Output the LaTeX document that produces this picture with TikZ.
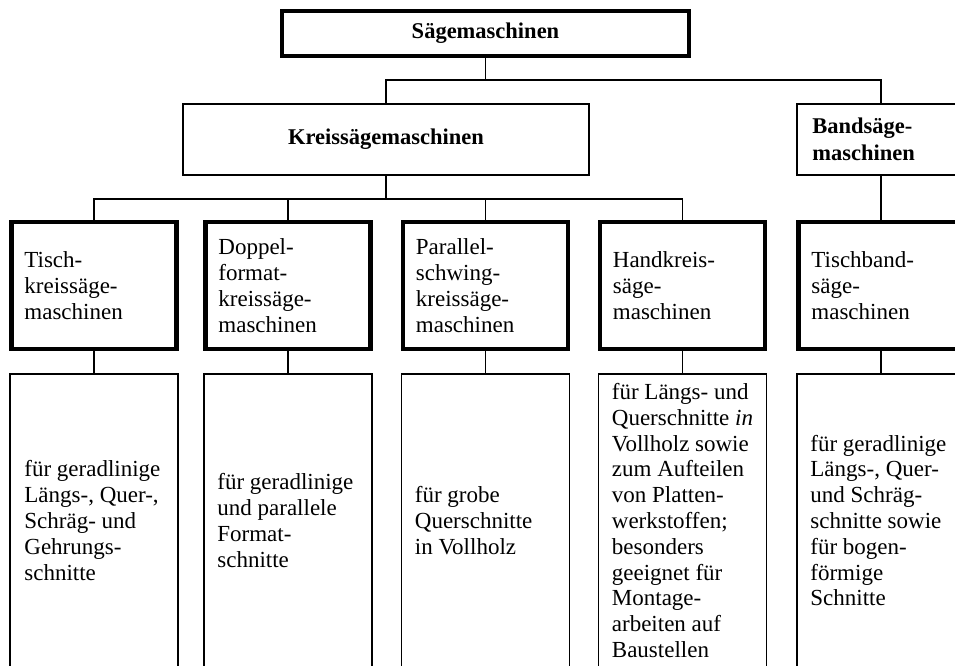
\documentclass[tikz,border=0pt]{standalone}
\usepackage{fontspec}
\setmainfont{Liberation Serif}
\begin{document}
\begin{tikzpicture}[x=1pt,y=-1pt,
  thickbox/.style={draw, line width=4.6pt, inner sep=0pt},
  thinbox/.style={draw, line width=1.6pt, inner sep=0pt},
  link/.style={line width=1.4pt},
  head/.style={font=\bfseries\fontsize{22.5}{27}\selectfont},
  body/.style={anchor=west, align=left, inner sep=0pt, font=\fontsize{23}{25.8}\selectfont},
  headbody/.style={anchor=west, align=left, inner sep=0pt, font=\bfseries\fontsize{22.5}{27}\selectfont},
  rowtwo/.style={thickbox, minimum width=165pt, minimum height=127pt},
  rowthree/.style={thinbox, minimum width=168pt, minimum height=293pt}]
\useasboundingbox (0,0) rectangle (955,665);

% top level
\node[thickbox, head, minimum width=407pt, minimum height=45pt] (saege) at (485.5,33.5) {Sägemaschinen};

% second level
\node[thinbox, head, minimum width=406pt, minimum height=71pt] (kreis) at (386,139.5) {Kreissägemaschinen};
\node[thinbox, minimum width=168pt, minimum height=71pt] (band) at (881,139.5) {};
\node[headbody] at ([xshift=16pt]band.west) {Bandsäge-\\maschinen};

% machine types
\node[rowtwo] (r2a) at (94,285.5) {};
\node[rowtwo] (r2b) at (288,285.5) {};
\node[rowtwo] (r2c) at (485.5,285.5) {};
\node[rowtwo] (r2d) at (682.5,285.5) {};
\node[rowtwo] (r2e) at (881,285.5) {};
\node[body] at ([xshift=15pt]r2a.west) {Tisch-\\kreissäge-\\maschinen};
\node[body] at ([xshift=15pt]r2b.west) {Doppel-\\format-\\kreissäge-\\maschinen};
\node[body] at ([xshift=15pt]r2c.west) {Parallel-\\schwing-\\kreissäge-\\maschinen};
\node[body] at ([xshift=15pt]r2d.west) {Handkreis-\\säge-\\maschinen};
\node[body] at ([xshift=15pt]r2e.west) {Tischband-\\säge-\\maschinen};

% uses
\node[rowthree] (r3a) at (94,520.5) {};
\node[rowthree] (r3b) at (288,520.5) {};
\node[rowthree] (r3c) at (485.5,520.5) {};
\node[rowthree] (r3d) at (682.5,520.5) {};
\node[rowthree] (r3e) at (881,520.5) {};
\node[body] at ([xshift=15pt]r3a.west) {für geradlinige\\Längs-, Quer-,\\Schräg- und\\Gehrungs-\\schnitte};
\node[body] at ([xshift=14pt]r3b.west) {für geradlinige\\und parallele\\Format-\\schnitte};
\node[body] at ([xshift=14pt]r3c.west) {für grobe\\Querschnitte\\in Vollholz};
\node[body] at ([xshift=14pt]r3d.west) {für Längs- und\\Querschnitte \textit{in}\\Vollholz sowie\\zum Aufteilen\\von Platten-\\werkstoffen;\\besonders\\geeignet für\\Montage-\\arbeiten auf\\Baustellen};
\node[body] at ([xshift=14pt]r3e.west) {für geradlinige\\Längs-, Quer-\\und Schräg-\\schnitte sowie\\für bogen-\\förmige\\Schnitte};

% connectors
\coordinate (bar1) at (0,80);
\coordinate (bar2) at (0,199);
\draw[link] (saege.south) -- (saege.south |- bar1);
\draw[link] (kreis.north) |- (bar1 -| band.north) -- (band.north);
\draw[link] (kreis.south) -- (kreis.south |- bar2);
\draw[link] (r2a.north) |- (bar2 -| r2d.north) -- (r2d.north);
\draw[link] (r2b.north) -- (r2b.north |- bar2);
\draw[link] (r2c.north) -- (r2c.north |- bar2);
\draw[link] (band.south) -- (r2e.north);
\foreach \c in {a,b,c,d,e}
  \draw[link] (r2\c.south) -- (r3\c.north);
\end{tikzpicture}
\end{document}
